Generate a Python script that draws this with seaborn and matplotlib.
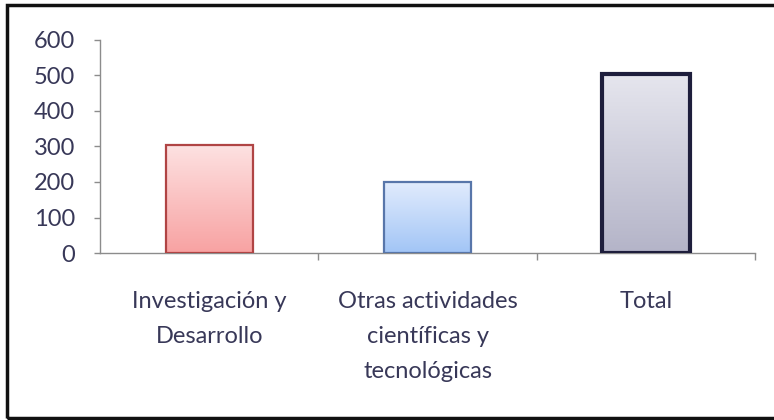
import matplotlib
matplotlib.use("Agg")
import matplotlib.pyplot as plt
import numpy as np
import pandas as pd
import seaborn as sns
from matplotlib.colors import LinearSegmentedColormap
from matplotlib.patches import Rectangle

categories = ["Investigación y\nDesarrollo",
              "Otras actividades\ncientíficas y\ntecnológicas",
              "Total"]
values = [305, 200, 505]
y_ticks = [0, 100, 200, 300, 400, 500, 600]

# top colour, bottom colour, edge colour, edge width
bar_styles = [
    ("#fde2e2", "#f8a2a2", "#b04444", 1.6),
    ("#e2ecfd", "#a2c5f6", "#5876aa", 1.6),
    ("#e6e6ee", "#b4b4c8", "#1e1e3c", 3.0),
]

sns.set_theme(style="white")
plt.rcParams["font.family"] = ["Lato", "DejaVu Sans"]
text_color = "#383858"

fig = plt.figure(figsize=(7.74, 4.2), dpi=100)
ax = fig.add_axes([0.1292, 0.3976, 0.8463, 0.5072])

df = pd.DataFrame({"cat": categories, "val": values})
sns.barplot(data=df, x="cat", y="val", hue="cat", legend=False,
            palette=[s[1] for s in bar_styles], width=0.4, ax=ax)

# gradient fill clipped to each bar
grad = np.linspace(1, 0, 256).reshape(-1, 1)
for patch, (top, bottom, edge, lw) in zip(ax.patches, bar_styles):
    x0, y0 = patch.get_x(), patch.get_y()
    w, h = patch.get_width(), patch.get_height()
    cmap = LinearSegmentedColormap.from_list("g", [bottom, top])
    im = ax.imshow(grad, extent=[x0, x0 + w, y0, y0 + h], aspect="auto",
                   cmap=cmap, origin="upper", zorder=2, vmin=0, vmax=1)
    im.set_clip_path(patch)
    patch.set_facecolor("none")
    patch.set_edgecolor(edge)
    patch.set_linewidth(lw)
    patch.set_zorder(3)

ax.set_xlim(-0.5, 2.5)
ax.set_ylim(0, 600)
ax.set_yticks(y_ticks)
ax.set_xlabel("")
ax.set_ylabel("")

for side in ["top", "right"]:
    ax.spines[side].set_visible(False)
for side in ["left", "bottom"]:
    ax.spines[side].set_color("#8c8c8c")
    ax.spines[side].set_linewidth(1.0)

ax.tick_params(axis="y", which="major", left=True, length=4, width=1,
               color="#8c8c8c", pad=14, labelsize=17, labelcolor=text_color)
ax.tick_params(axis="x", which="major", bottom=False, pad=21,
               labelsize=17, labelcolor=text_color)
ax.set_xticks([0.5, 1.5, 2.5], minor=True)
ax.tick_params(axis="x", which="minor", bottom=True, length=5, width=1,
               color="#8c8c8c")
for lbl in ax.get_xticklabels():
    lbl.set_linespacing(1.85)
    lbl.set_verticalalignment("top")

# outer frame
fig.patches.append(Rectangle((0.009, 0.004), 1.2, 0.984, transform=fig.transFigure,
                             fill=False, edgecolor="#111111", linewidth=2.5))

fig.savefig("out.png", dpi=100)
